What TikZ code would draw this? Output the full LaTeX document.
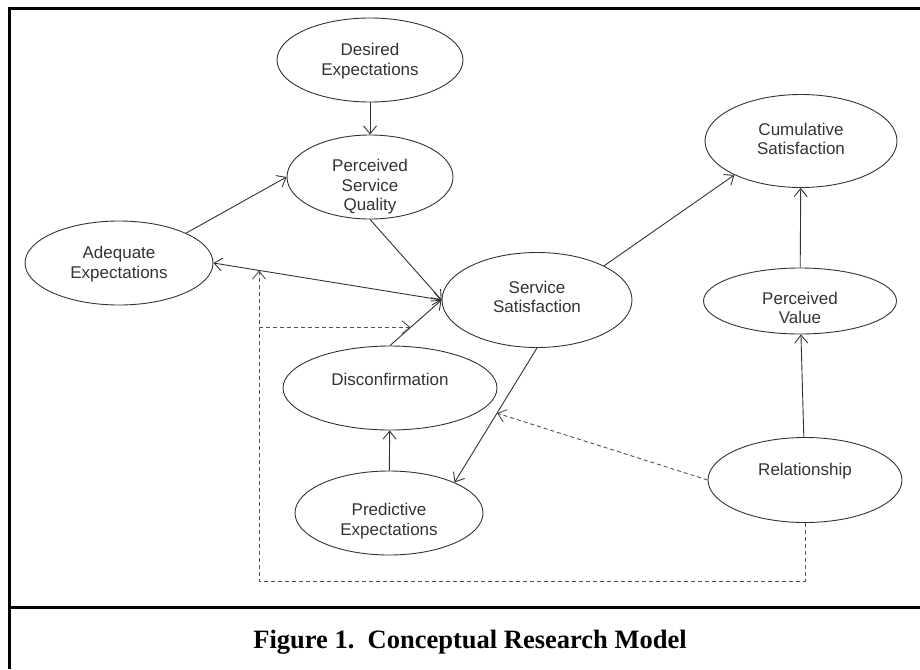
\documentclass[tikz,border=0pt]{standalone}
\usepackage{fontspec}
\setmainfont{Liberation Sans}
\newfontfamily\capfont{Liberation Serif}
\usepackage{xcolor}
\usepackage{tikz}
\usetikzlibrary{shapes.geometric,arrows.meta}
\definecolor{ink}{HTML}{333333}
\makeatletter
\renewcommand\small{%
  \@setfontsize\small{17pt}{19.5pt}%
}
\renewcommand\large{%
  \@setfontsize\large{26.5pt}{30pt}%
}
\makeatother

\begin{document}
\begin{tikzpicture}[x=1pt, y=-1pt, >={Straight Barb[length=8pt,width=13pt]},
  every node/.style={font=\small, text=ink},
  every label/.style={align=center},
  oval/.style={draw=ink, line width=0.9pt, ellipse, inner sep=0pt},
  solidlink/.style={draw=ink, line width=0.9pt},
  dashlink/.style={draw=ink!85, line width=0.9pt, dash pattern=on 4pt off 3pt}]
  \useasboundingbox (0,0) rectangle (920,669);
  % frame
  \draw[line width=3pt] (9,669) -- (9,9) -- (920,9);
  \draw[line width=3pt] (9,607) -- (920,607);
  % constructs
  \node[oval, minimum width=186, minimum height=84, label={[yshift=-1pt]center:Desired\\Expectations}] (des) at (370,60) {};
  \node[oval, minimum width=166, minimum height=84, label={[yshift=-10pt]center:Perceived\\Service\\Quality}] (psq) at (370,177) {};
  \node[oval, minimum width=188, minimum height=84, label={[yshift=-1pt]center:Adequate\\Expectations}] (ade) at (119,263) {};
  \node[oval, minimum width=190, minimum height=95, label={[yshift=3pt]center:Service\\Satisfaction}] (ss) at (537,300) {};
  \node[oval, minimum width=192, minimum height=93, label={[yshift=2pt]center:Cumulative\\Satisfaction}] (cum) at (801,141) {};
  \node[oval, minimum width=193, minimum height=66, label={[yshift=-7pt]center:Perceived\\Value}] (pv) at (800,301) {};
  \node[oval, minimum width=214, minimum height=84, label={[yshift=9pt]center:Disconfirmation}] (dis) at (390,388) {};
  \node[oval, minimum width=188, minimum height=84, label={[yshift=-8pt]center:Predictive\\Expectations}] (pre) at (389,513) {};
  \node[oval, minimum width=194, minimum height=85, label={[yshift=9pt]center:Relationship}] (rel) at (805,480) {};
  % paths
  \draw[solidlink, ->] (des) -- (psq);
  \draw[solidlink, ->] (ade.24) -- (psq.west);
  \draw[solidlink, ->] (psq.south) -- (ss.west);
  \draw[solidlink, <->] (ade.east) -- coordinate[pos=0.2] (m1) (ss.west);
  \draw[solidlink, ->] (dis.north) -- coordinate[pos=0.4] (m3) (ss.west);
  \draw[solidlink, ->] (ss.south) -- coordinate[pos=0.485] (m2) (pre.25);
  \draw[solidlink, ->] (pre) -- (dis);
  \draw[solidlink, ->] (ss.27) -- (cum.207);
  \draw[solidlink, ->] (pv) -- (cum);
  \draw[solidlink, ->] (rel) -- (pv);
  % moderating effects
  \draw[dashlink, ->] (rel.west) -- (m2);
  \draw[dashlink, ->] (rel.south) -- ++(0,58) -| (m1);
  \draw[dashlink, ->] (m1 |- m3) -- (m3);
  % caption
  \node[font=\capfont\bfseries\large, text=black, anchor=base] (cap) at (470,648) {Figure 1.\ \ Conceptual Research Model};
\end{tikzpicture}
\end{document}
